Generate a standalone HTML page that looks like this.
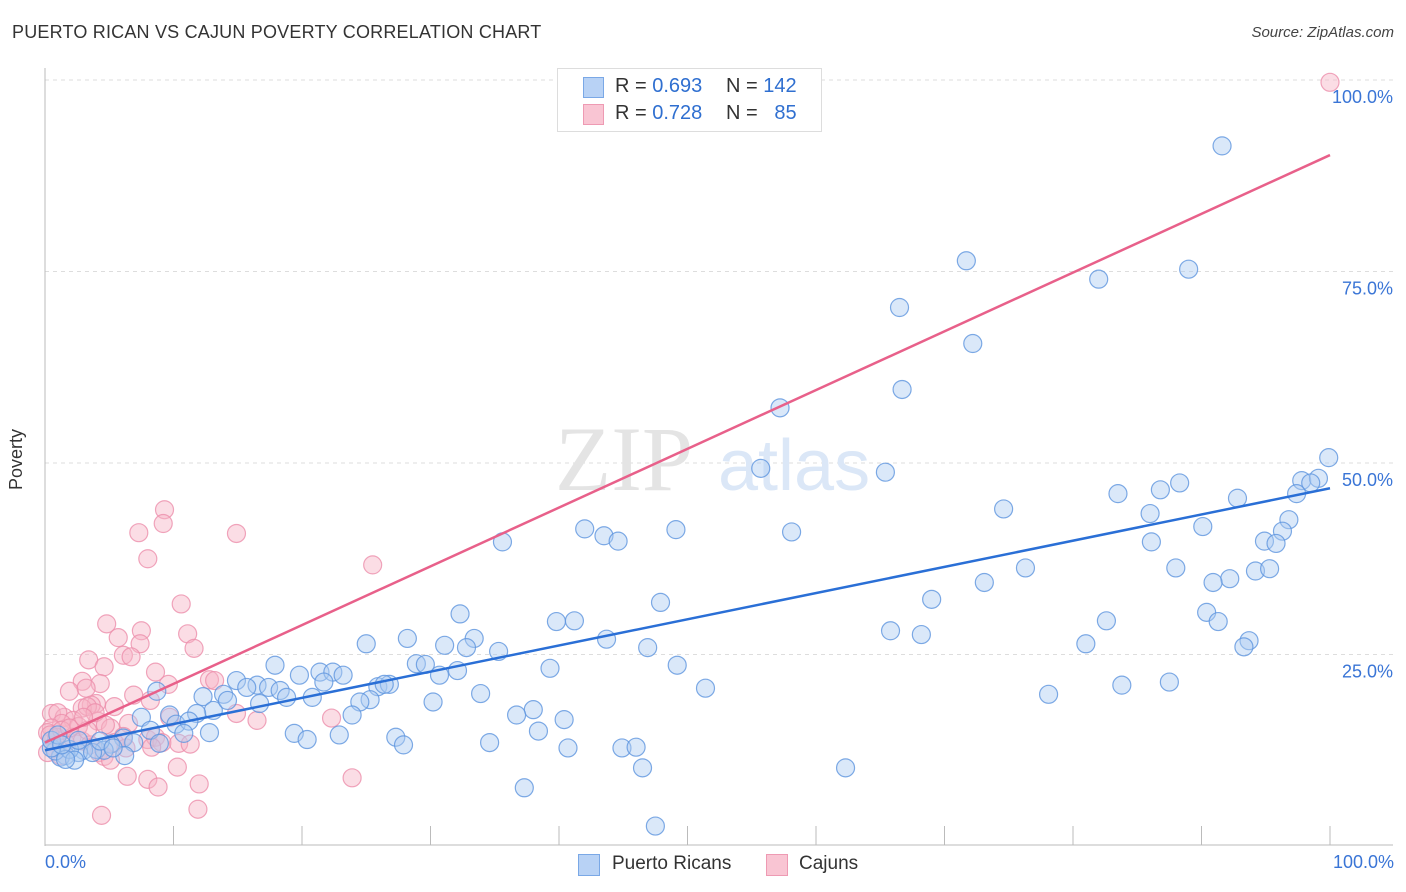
<!DOCTYPE html>
<html><head><meta charset="utf-8">
<style>
body{margin:0;background:#fff;font-family:"Liberation Sans",sans-serif;}
#wrap{position:relative;width:1406px;height:892px;overflow:hidden;}
.t{position:absolute;white-space:nowrap;}
</style></head>
<body>
<div id="wrap">
<div class="t" style="left:12px;top:22px;font-size:18px;color:#333;letter-spacing:0.2px">PUERTO RICAN VS CAJUN POVERTY CORRELATION CHART</div>
<div class="t" style="right:12px;top:24px;font-size:15px;color:#444;font-style:italic">Source: ZipAtlas.com</div>
<svg id="svg" width="1406" height="892" style="position:absolute;left:0;top:0"></svg>
</div>
<script>
const blueX=[91.6,71.7,82.0,89.0,66.5,72.2,66.7,57.2,55.7,65.4,99.9,97.8,99.1,98.5,97.4,88.3,86.8,83.5,92.8,74.6,96.8,86.0,90.1,96.3,94.9,86.1,95.8,58.1,49.1,42.0,43.5,44.6,35.6,76.3,88.0,94.2,95.3,92.2,90.9,73.1,69.0,47.9,32.3,39.8,41.2,90.4,91.3,82.6,65.8,68.2,43.7,93.7,93.3,81.0,28.2,25.0,31.1,33.4,32.8,35.3,46.9,39.3,49.2,28.9,29.6,30.7,32.1,17.9,21.4,22.4,23.2,19.8,14.9,16.5,15.7,17.4,18.3,18.8,13.9,12.3,25.9,26.8,26.4,21.7,25.3,24.5,20.8,33.9,30.2,16.7,13.1,11.8,14.2,78.1,83.8,87.5,51.4,8.7,38.0,36.7,40.4,38.4,23.9,7.5,9.7,10.2,11.2,10.8,12.8,19.4,20.4,22.9,27.3,27.9,34.6,40.7,44.9,46.0,46.5,62.3,37.3,47.5,8.2,8.9,6.1,5.1,6.9,4.0,3.0,2.6,1.6,1.2,0.8,0.5,1.9,2.3,1.6,6.2,4.6,3.7,0.5,1.0,1.3,4.3,5.3,2.6];
const blueY=[91.4,76.4,74.0,75.3,70.3,65.6,59.6,57.2,49.3,48.8,50.7,47.7,48.0,47.4,46.0,47.4,46.5,46.0,45.4,44.0,42.6,43.4,41.7,41.1,39.8,39.7,39.5,41.0,41.3,41.4,40.5,39.8,39.7,36.3,36.3,35.9,36.2,34.9,34.4,34.4,32.2,31.8,30.3,29.3,29.4,30.5,29.3,29.4,28.1,27.6,27.0,26.8,26.0,26.4,27.1,26.4,26.2,27.1,25.9,25.4,25.9,23.2,23.6,23.8,23.7,22.3,22.9,23.6,22.7,22.7,22.3,22.3,21.6,21.0,20.7,20.7,20.3,19.4,19.8,19.5,20.8,21.1,21.1,21.4,19.1,18.8,19.4,19.9,18.8,18.6,17.7,17.3,19.0,19.8,21.0,21.4,20.6,20.2,17.8,17.1,16.5,15.0,17.1,16.8,17.1,15.9,16.3,14.7,14.8,14.7,13.9,14.5,14.2,13.2,13.5,12.8,12.8,12.9,10.2,10.2,7.6,2.6,15.1,13.4,14.1,13.3,13.5,12.6,12.5,12.2,11.8,11.6,12.4,12.8,12.6,11.2,11.3,11.8,12.5,12.2,13.8,14.5,13.2,13.7,12.8,13.8];
const pinkX=[100,9.3,9.2,7.3,14.9,8.0,25.5,10.6,4.8,7.5,5.7,11.1,11.6,7.4,3.4,4.6,6.1,6.7,8.6,9.6,2.9,1.9,4.3,3.2,6.9,12.8,13.2,8.2,4.0,3.6,2.9,3.3,5.4,14.9,0.5,1.5,1.0,2.2,1.3,2.6,4.1,6.5,5.1,16.5,22.3,9.7,0.5,0.2,0.9,1.6,2.1,2.9,3.5,0.8,0.2,1.2,4.2,6.1,5.4,8.0,8.6,9.1,10.4,11.3,8.3,6.3,4.6,5.1,10.3,6.4,8.0,8.8,12.0,23.9,4.4,11.9,0.4,1.3,3.3,1.9,3.9,3.0,4.7];
const pinkY=[99.7,43.9,42.1,40.9,40.8,37.5,36.7,31.6,29.0,28.1,27.2,27.7,25.8,26.4,24.3,23.4,24.9,24.7,22.7,21.1,21.5,20.2,21.2,20.6,19.7,21.7,21.6,19.0,18.6,18.4,18.0,18.2,18.2,17.3,17.3,16.8,17.4,16.4,16.0,15.6,16.3,16.0,15.4,16.4,16.7,16.8,15.4,14.8,14.2,13.4,14.2,13.7,13.2,12.8,12.2,11.8,12.2,14.3,13.5,13.9,14.2,13.5,13.4,13.3,12.9,12.8,11.7,11.2,10.3,9.1,8.7,7.7,8.1,8.9,4.0,4.8,14.5,15.1,15.1,15.4,17.4,16.8,15.8];
const blueTrend=[12.5,46.7];
const pinkTrend=[13.5,90.2];
const yTicks=[25,50,75,100];
const yTickLabels=["25.0%","50.0%","75.0%","100.0%"];
const xTicks=[0,10,20,30,40,50,60,70,80,90,100];

const NS="http://www.w3.org/2000/svg";
const svg=document.getElementById('svg');
const X0=45,X1=1330,Y0=846,Y1=80;
const sx=v=>X0+(X1-X0)*v/100;
const sy=v=>Y0-(Y0-Y1)*v/100;
function mk(tag,at,parent){const e=document.createElementNS(NS,tag);for(const k in at)e.setAttribute(k,at[k]);(parent||svg).appendChild(e);return e;}

// gridlines
yTicks.forEach((v,i)=>{
 const g=mk('line',{x1:X0,x2:1393,y1:sy(v),y2:sy(v),stroke:'#ddd','stroke-dasharray':'4,4'});
 
 
 const t=mk('text',{x:1393,y:sy(v)+23,'text-anchor':'end','font-size':18,fill:'#3a75d6','font-family':'Liberation Sans, sans-serif'});
 t.textContent=yTickLabels[i];
 
 
});
// axes
let a=mk('line',{x1:X0,x2:X0,y1:68,y2:846,stroke:'#bbb'});


a=mk('line',{x1:X0,x2:1393,y1:845,y2:845,stroke:'#bbb'});


xTicks.forEach(v=>{
 const l=mk('line',{x1:sx(v),x2:sx(v),y1:826,y2:845,stroke:'#bbb'});
 
 
});
// watermark
let w=mk('text',{x:555,y:490,'font-size':92,fill:'#e4e4e4','font-family':'Liberation Serif, serif'});w.textContent='ZIP';


w=mk('text',{x:718,y:490,'font-size':72,fill:'#dbe7f7','font-family':'Liberation Sans, sans-serif'});w.textContent='atlas';



function pts(xs,ys,fill,stroke,name){
 xs.forEach((x,i)=>{
  const c=mk('circle',{cx:sx(x),cy:sy(ys[i]),r:9,fill:fill,'fill-opacity':0.45,stroke:stroke,'stroke-width':1.2,'stroke-opacity':0.8});
  
  
 });
}
pts(pinkX,pinkY,'#f6b3c6','#ec8fab','cajun-point');
pts(blueX,blueY,'#aecbf2','#5e95de','puerto-rican-point');
let l=mk('line',{x1:sx(0),y1:sy(blueTrend[0]),x2:sx(100),y2:sy(blueTrend[1]),stroke:'#2a6fd6','stroke-width':2.5});


l=mk('line',{x1:sx(0),y1:sy(pinkTrend[0]),x2:sx(100),y2:sy(pinkTrend[1]),stroke:'#e8608a','stroke-width':2.5});


</script>
<div class="t" style="left:6px;top:445px;font-size:18px;color:#333;transform:rotate(-90deg);transform-origin:left top;top:490px">Poverty</div>
<div class="t" style="left:45px;top:852px;font-size:18px;color:#3a75d6">0.0%</div>
<div class="t" style="right:12px;top:852px;font-size:18px;color:#3a75d6">100.0%</div>
<div style="position:absolute;left:557px;top:68px;width:263px;height:62px;border:1px solid #ddd;background:#fff;font-size:20px;color:#333">
 <div style="position:absolute;left:25px;top:8px;width:19px;height:19px;background:#b8d2f5;border:1px solid #7aa8e6"></div>
 <div class="t" style="left:57px;top:6px">R = <span style="color:#2f6fd0">0.693</span></div>
 <div class="t" style="left:168px;top:6px">N = <span style="color:#2f6fd0">142</span></div>
 <div style="position:absolute;left:25px;top:35px;width:19px;height:19px;background:#f9c5d3;border:1px solid #ee9ab3"></div>
 <div class="t" style="left:57px;top:33px">R = <span style="color:#2f6fd0">0.728</span></div>
 <div class="t" style="left:168px;top:33px">N = &nbsp;&nbsp;<span style="color:#2f6fd0">85</span></div>
</div>
<div style="position:absolute;left:578px;top:852px;font-size:19px;color:#333">
 <div style="position:absolute;left:0;top:2px;width:20px;height:20px;background:#b8d2f5;border:1px solid #7aa8e6"></div>
 <div class="t" style="left:34px;top:1px">Puerto Ricans</div>
 <div style="position:absolute;left:188px;top:2px;width:20px;height:20px;background:#f9c5d3;border:1px solid #ee9ab3"></div>
 <div class="t" style="left:221px;top:1px">Cajuns</div>
</div>
</body></html>
